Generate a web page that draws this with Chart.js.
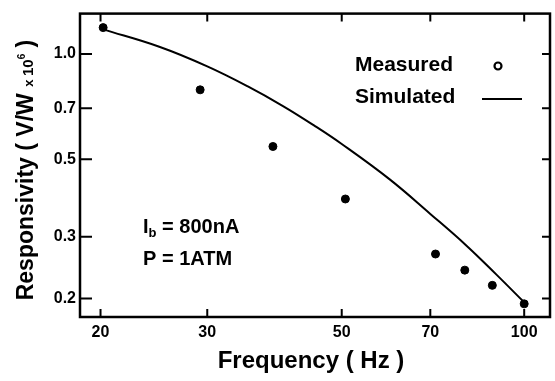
<!DOCTYPE html>
<html>
<head>
<meta charset="utf-8">
<script src="https://cdn.jsdelivr.net/npm/chart.js@4.4.0/dist/chart.umd.min.js"></script>
<style>
  body { margin: 0; background: #fff; }
  #wrap { width: 555px; height: 381px; }
</style>
</head>
<body>
<div id="wrap"><canvas id="chart" width="555" height="381"></canvas></div>
<script>
// measured points (Hz, V/W x 1e6)
const measuredFreq = [20.2, 29.2, 38.5, 50.7, 71.4, 79.8, 88.6, 100];
const measuredResp = [1.19, 0.79, 0.544, 0.385, 0.268, 0.241, 0.218, 0.193];

// simulated curve
const simFreq = [20.2, 25, 30, 35, 40, 45, 50, 60, 70, 80, 90, 100];
const simResp = [1.176, 1.049, 0.922, 0.808, 0.71, 0.625, 0.553, 0.438, 0.349, 0.285, 0.234, 0.195];

const xTicks = [20, 30, 50, 70, 100];
const yTicks = [0.2, 0.3, 0.5, 0.7, 1.0];

const FONT = '"Liberation Sans", Arial, sans-serif';

function drawSegments(ctx, x, y, segs) {
  // segs: [text, size, dy]
  let cx = x;
  segs.forEach(s => {
    ctx.font = 'bold ' + s[1] + 'px ' + FONT;
    ctx.fillText(s[0], cx, y + (s[2] || 0));
    cx += ctx.measureText(s[0]).width;
  });
  return cx - x;
}

function segWidth(ctx, segs) {
  let w = 0;
  segs.forEach(s => {
    ctx.font = 'bold ' + s[1] + 'px ' + FONT;
    w += ctx.measureText(s[0]).width;
  });
  return w;
}

const framePlugin = {
  id: 'frame',
  afterDraw(chart) {
    const ctx = chart.ctx;
    const a = chart.chartArea;
    const xs = chart.scales.x, ys = chart.scales.y;
    ctx.save();
    ctx.strokeStyle = '#000';
    ctx.lineWidth = 2.5;
    ctx.strokeRect(a.left, a.top, a.right - a.left, a.bottom - a.top);

    // inward tick marks on all sides
    ctx.lineWidth = 2;
    const tl = 8;
    xTicks.forEach(v => {
      const px = xs.getPixelForValue(v);
      ctx.beginPath();
      ctx.moveTo(px, a.bottom); ctx.lineTo(px, a.bottom - tl);
      ctx.moveTo(px, a.top); ctx.lineTo(px, a.top + tl);
      ctx.stroke();
    });
    yTicks.forEach(v => {
      const py = ys.getPixelForValue(v);
      ctx.beginPath();
      ctx.moveTo(a.left, py); ctx.lineTo(a.left + tl + 4, py);
      ctx.moveTo(a.right, py); ctx.lineTo(a.right - tl, py);
      ctx.stroke();
    });

    ctx.fillStyle = '#000';
    ctx.textBaseline = 'alphabetic';
    ctx.textAlign = 'left';

    // legend
    ctx.font = 'bold 21px ' + FONT;
    ctx.fillText('Measured', 355, 71);
    ctx.fillText('Simulated', 355, 103);
    ctx.beginPath();
    ctx.arc(498, 66, 3.5, 0, Math.PI * 2);
    ctx.lineWidth = 2.2;
    ctx.stroke();
    ctx.beginPath();
    ctx.moveTo(482, 99); ctx.lineTo(522, 99);
    ctx.lineWidth = 2;
    ctx.stroke();

    // annotation
    drawSegments(ctx, 143, 233, [['I', 20], ['b', 13, 4], [' = 800nA', 20]]);
    drawSegments(ctx, 143, 265, [['P = 1ATM', 20]]);

    // x title
    ctx.font = 'bold 24px ' + FONT;
    ctx.textAlign = 'center';
    ctx.fillText('Frequency ( Hz )', 311, 368);
    ctx.textAlign = 'left';

    // y title (rotated)
    const ySegs = [['Responsivity ( V/W ', 23], ['x ', 13], ['10', 15], ['6', 10, -8], [' )', 23]];
    const w = segWidth(ctx, ySegs);
    ctx.translate(33, 170);
    ctx.rotate(-Math.PI / 2);
    drawSegments(ctx, -w / 2, 0, ySegs);
    ctx.restore();
  }
};

const ctx = document.getElementById('chart').getContext('2d');
new Chart(ctx, {
  type: 'scatter',
  data: {
    datasets: [
      {
        label: 'Measured',
        data: measuredFreq.map((f, i) => ({ x: f, y: measuredResp[i] })),
        backgroundColor: '#000',
        borderColor: '#000',
        pointRadius: 4,
        showLine: false,
      },
      {
        label: 'Simulated',
        data: simFreq.map((f, i) => ({ x: f, y: simResp[i] })),
        borderColor: '#000',
        borderWidth: 2,
        pointRadius: 0,
        showLine: true,
        tension: 0.4,
      },
    ],
  },
  options: {
    responsive: false,
    animation: false,
    layout: { padding: { top: 9, right: 2, left: 0, bottom: 0 } },
    plugins: { legend: { display: false }, tooltip: { enabled: false } },
    scales: {
      x: {
        type: 'logarithmic',
        min: 18.5,
        max: 110.3,
        grid: { display: false, drawTicks: false },
        border: { display: false },
        afterBuildTicks: s => { s.ticks = xTicks.map(v => ({ value: v })); },
        afterFit: s => { s.height = 64; },
        ticks: {
          autoSkip: false,
          maxRotation: 0,
          padding: 6,
          color: '#000',
          font: { family: FONT, size: 16, weight: 'bold' },
          callback: v => String(v),
        },
      },
      y: {
        type: 'logarithmic',
        min: 0.177,
        max: 1.305,
        grid: { display: false, drawTicks: false },
        border: { display: false },
        afterBuildTicks: s => { s.ticks = yTicks.map(v => ({ value: v })); },
        afterFit: s => { s.width = 80; },
        ticks: {
          autoSkip: false,
          padding: 4,
          color: '#000',
          font: { family: FONT, size: 16, weight: 'bold' },
          callback: v => Number(v).toFixed(1),
        },
      },
    },
  },
  plugins: [framePlugin],
});
</script>
</body>
</html>
